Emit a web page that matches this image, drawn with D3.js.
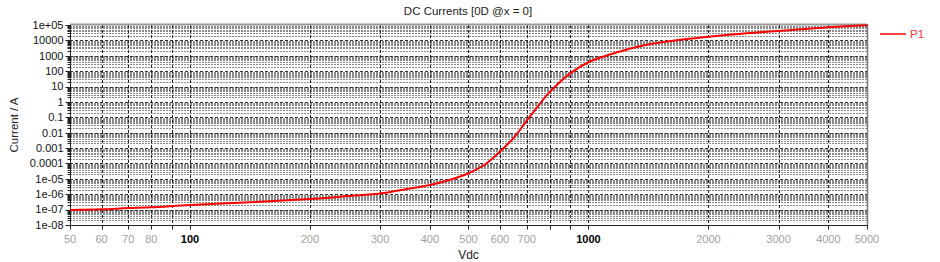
<!DOCTYPE html>
<html>
<head>
<meta charset="utf-8">
<script src="https://cdn.jsdelivr.net/npm/d3@7"></script>
<style>
  body { margin: 0; background: #fff; }
  svg { display: block; font-family: "Liberation Sans", Arial, sans-serif; }
</style>
</head>
<body>
<div id="chart"></div>
<script>
"use strict"

// data
let voltage = [50, 60, 70, 80, 100, 150, 200, 250, 300, 350, 400, 450, 500, 550, 600, 650, 700, 750, 800, 900, 1000, 1200, 1400, 1700, 2000, 2500, 3000, 4000, 5000];
let current = [9.5e-8, 1.05e-7, 1.25e-7, 1.4e-7, 2e-7, 3.2e-7, 4.9e-7, 7.6e-7, 1.1e-6, 2.2e-6, 4e-6, 8.8e-6, 2.3e-5, 8.5e-5, 6e-4, 4.8e-3, 0.06, 0.6, 4.5, 72, 380, 1900, 5200, 11000, 17000, 29000, 41000, 71000, 95000];

let xTicks = [50, 60, 70, 80, 100, 200, 300, 400, 500, 600, 700, 1000, 2000, 3000, 4000, 5000];
let xGrid = [60, 70, 80, 90, 100, 200, 300, 400, 500, 600, 700, 800, 900, 1000, 2000, 3000, 4000];
let yTicks = [1e-8, 1e-7, 1e-6, 1e-5, 1e-4, 1e-3, 0.01, 0.1, 1, 10, 100, 1000, 10000, 1e5];
let yLabels = ["1e-08", "1e-07", "1e-06", "1e-05", "0.0001", "0.001", "0.01", "0.1", "1", "10", "100", "1000", "10000", "1e+05"];
let seriesName = "P1";

let width = 940, height = 262;
let plotLeft = 70, plotRight = 867, plotTop = 25, plotBottom = 225;

let drawing = d3.select("#chart")
    .append("svg")
    .attr("width", width)
    .attr("height", height);

let x = d3.scaleLog().domain([50, 5000]).range([plotLeft, plotRight]);
let y = d3.scaleLog().domain([1e-8, 1e5]).range([plotBottom, plotTop]);

/* minor horizontal lines, 2..9 inside each decade */
let yMinor = [];
yTicks.slice(0, -1).forEach(d => {
    for (let k = 2; k <= 9; k++) yMinor.push(d * k);
});

drawing.append("g")
    .selectAll("line")
    .data(yMinor)
    .join("line")
    .attr("x1", plotLeft)
    .attr("x2", plotRight)
    .attr("y1", d => Math.round(y(d)) + 0.5)
    .attr("y2", d => Math.round(y(d)) + 0.5)
    .attr("stroke", "#8a8a8a")
    .attr("stroke-width", 1)
    .attr("stroke-dasharray", "2,1");

drawing.append("g")
    .selectAll("line")
    .data(yTicks.slice(0, -1))
    .join("line")
    .attr("x1", plotLeft)
    .attr("x2", plotRight)
    .attr("y1", d => Math.round(y(d)) + 0.5)
    .attr("y2", d => Math.round(y(d)) + 0.5)
    .attr("stroke", "#333")
    .attr("stroke-width", 1)
    .attr("stroke-dasharray", "3,2");

drawing.append("g")
    .selectAll("line")
    .data(xGrid)
    .join("line")
    .attr("x1", d => Math.round(x(d)) + 0.5)
    .attr("x2", d => Math.round(x(d)) + 0.5)
    .attr("y1", plotTop)
    .attr("y2", plotBottom)
    .attr("stroke", "#222")
    .attr("stroke-width", 1)
    .attr("stroke-dasharray", "3,2");

/* frame: top and right in grey */
drawing.append("line")
    .attr("x1", plotLeft).attr("x2", plotRight)
    .attr("y1", plotTop - 0.5).attr("y2", plotTop - 0.5)
    .attr("stroke", "#999").attr("stroke-width", 2);
drawing.append("line")
    .attr("x1", plotRight + 0.5).attr("x2", plotRight + 0.5)
    .attr("y1", plotTop - 1).attr("y2", plotBottom)
    .attr("stroke", "#777").attr("stroke-width", 1.5);

/* y axis */
let yAxis = drawing.append("g")
    .attr("transform", `translate(${plotLeft + 0.5},0)`);
yAxis.append("line")
    .attr("y1", plotTop).attr("y2", plotBottom + 1)
    .attr("stroke", "#222");
yAxis.selectAll(".minor")
    .data(yMinor)
    .join("line")
    .attr("class", "minor")
    .attr("x1", -3).attr("x2", 0)
    .attr("y1", d => Math.round(y(d)) + 0.5)
    .attr("y2", d => Math.round(y(d)) + 0.5)
    .attr("stroke", "#222");
yAxis.selectAll(".major")
    .data(yTicks)
    .join("line")
    .attr("class", "major")
    .attr("x1", -5).attr("x2", 0)
    .attr("y1", d => Math.round(y(d)) + 0.5)
    .attr("y2", d => Math.round(y(d)) + 0.5)
    .attr("stroke", "#222");
yAxis.selectAll("text")
    .data(yTicks)
    .join("text")
    .attr("x", -7)
    .attr("y", d => y(d))
    .attr("dy", "0.35em")
    .attr("text-anchor", "end")
    .attr("font-size", 11)
    .attr("fill", "#111")
    .text((d, i) => yLabels[i]);

/* x axis */
let xAxis = drawing.append("g")
    .attr("transform", `translate(0,${plotBottom + 0.5})`);
xAxis.append("line")
    .attr("x1", plotLeft).attr("x2", plotRight + 1)
    .attr("stroke", "#222");
xAxis.selectAll("line.tick")
    .data(xGrid.concat([50, 5000]))
    .join("line")
    .attr("class", "tick")
    .attr("x1", d => Math.round(x(d)) + 0.5)
    .attr("x2", d => Math.round(x(d)) + 0.5)
    .attr("y1", 0).attr("y2", 4)
    .attr("stroke", "#222");
xAxis.selectAll("text")
    .data(xTicks)
    .join("text")
    .attr("x", d => x(d))
    .attr("y", 17)
    .attr("text-anchor", "middle")
    .attr("font-size", 11)
    .attr("fill", d => (d === 100 || d === 1000) ? "#000" : "#a0a0a0")
    .attr("font-weight", d => (d === 100 || d === 1000) ? "bold" : "normal")
    .text(d => d);

/* curve */
let line = d3.line()
    .x((d, i) => x(voltage[i]))
    .y(d => y(d))
    .curve(d3.curveCatmullRom.alpha(0.5));

drawing.append("path")
    .datum(current)
    .attr("d", line)
    .attr("fill", "none")
    .attr("stroke", "#ff0000")
    .attr("stroke-width", 2);

/* titles */
drawing.append("text")
    .attr("x", 468)
    .attr("y", 15)
    .attr("text-anchor", "middle")
    .attr("font-size", 11.5)
    .attr("fill", "#222")
    .text("DC Currents [0D @x = 0]");

drawing.append("text")
    .attr("x", (plotLeft + plotRight) / 2)
    .attr("y", 259)
    .attr("text-anchor", "middle")
    .attr("font-size", 12)
    .attr("fill", "#222")
    .text("Vdc");

drawing.append("text")
    .attr("transform", `translate(18,${(plotTop + plotBottom) / 2}) rotate(-90)`)
    .attr("text-anchor", "middle")
    .attr("font-size", 11.5)
    .attr("fill", "#222")
    .text("Current / A");

/* legend */
drawing.append("line")
    .attr("x1", 880).attr("x2", 906)
    .attr("y1", 34).attr("y2", 34)
    .attr("stroke", "#ff0000")
    .attr("stroke-width", 1.5);
drawing.append("text")
    .attr("x", 910)
    .attr("y", 34)
    .attr("dy", "0.35em")
    .attr("font-size", 11.5)
    .attr("fill", "#ff3030")
    .text(seriesName);
</script>
</body>
</html>
